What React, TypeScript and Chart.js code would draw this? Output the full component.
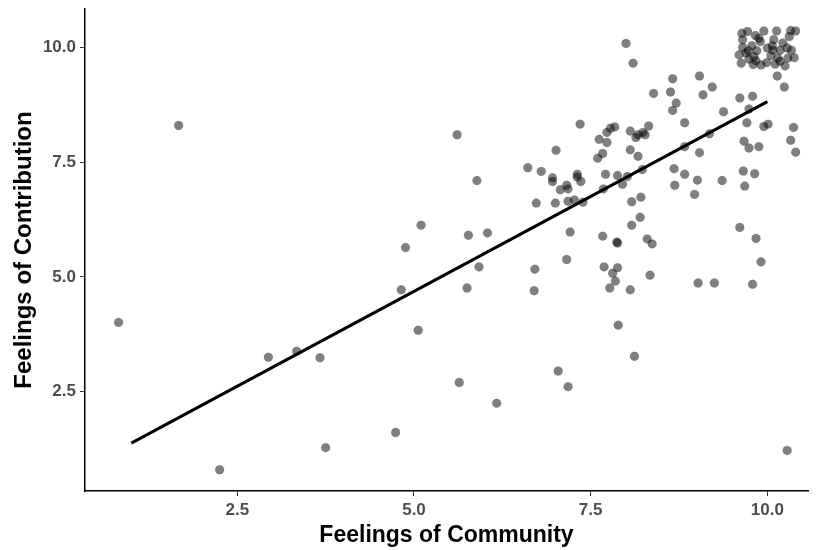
import React, { useEffect, useRef } from "react";
import { Chart, registerables } from "chart.js";

Chart.register(...registerables);

// Scatter points: Feelings of Community (x) vs Feelings of Contribution (y)
const communityX = [
  0.82, 1.67, 2.25, 2.94, 3.34, 3.67, 3.75, 4.74, 4.82, 4.88, 5.06, 5.10, 5.61, 5.64, 5.75, 5.77, 5.89, 5.92, 6.04, 6.17,
  6.61, 6.70, 6.71, 6.73, 6.80, 6.96, 6.96, 7.00, 7.01, 7.04, 7.07, 7.16, 7.16, 7.18, 7.18, 7.18, 7.21, 7.27, 7.31, 7.31,
  7.35, 7.36, 7.39, 7.60, 7.62, 7.67, 7.67, 7.68, 7.69, 7.71, 7.73, 7.73, 7.77, 7.78, 7.81, 7.84, 7.85, 7.88, 7.88, 7.87,
  7.88, 7.89, 7.95, 8.00, 8.02, 8.06, 8.06, 8.06, 8.08, 8.08, 8.10, 8.12, 8.14, 8.17, 8.17, 8.20, 8.21, 8.23, 8.24, 8.27,
  8.30, 8.32, 8.34, 8.37, 8.39, 8.63, 8.66, 8.66, 8.68, 8.69, 8.71, 8.83, 8.83, 8.83, 8.97, 9.01, 9.02, 9.04, 9.04, 9.09,
  9.18, 9.22, 9.25, 9.36, 9.38, 9.61, 9.61, 9.66, 9.67, 9.68, 9.71, 9.74, 9.74, 9.79, 9.79, 9.82, 9.84, 9.88, 9.91, 9.95,
  10.01, 10.14, 10.24, 10.28, 10.33, 10.37, 10.40,
  // upper-right cluster
  9.64, 9.72, 9.83, 9.95, 10.13, 10.33, 10.40, 10.31, 9.65, 9.90, 10.09, 10.07, 9.65, 9.78, 9.85, 10.00, 10.08, 10.18,
  10.28, 10.34, 9.60, 9.73, 9.81, 9.74, 9.84, 10.15, 10.29, 10.38, 9.63, 9.91, 9.99, 10.11, 10.25, 9.70, 10.05, 10.22,
  9.88, 10.18, 9.80,
];
const contributionY = [
  4.01, 8.30, 0.80, 3.25, 3.38, 3.24, 1.28, 1.61, 4.72, 5.64, 3.84, 6.13, 8.10, 2.70, 4.76, 5.91, 7.10, 5.22, 5.96, 2.25,
  7.38, 4.70, 5.17, 6.61, 7.30, 7.16, 7.08, 6.61, 7.76, 2.95, 6.90, 7.00, 5.38, 6.92, 6.65, 2.61, 5.98, 6.68, 7.24, 7.18,
  8.33, 7.08, 6.63, 7.59, 8.00, 7.69, 5.89, 6.92, 5.22, 7.24, 8.15, 7.93, 4.76, 8.24, 5.08, 8.27, 4.91, 7.21, 5.74, 5.76,
  5.20, 3.95, 7.02, 10.09, 7.19, 8.18, 7.77, 4.72, 6.64, 6.13, 9.66, 3.27, 8.04, 8.10, 7.63, 6.30, 6.74, 7.34, 8.15, 8.10,
  5.83, 8.29, 5.04, 5.72, 9.00, 9.03, 9.32, 8.63, 7.36, 7.00, 8.79, 8.36, 7.84, 7.24, 6.80, 7.11, 4.87, 9.38, 7.71, 8.97,
  8.12, 9.14, 4.87, 7.10, 8.60, 8.90, 6.08, 7.31, 7.96, 6.98, 8.36, 8.66, 7.81, 8.94, 4.84, 7.25, 5.84, 7.84, 5.33, 8.28,
  8.33, 9.38, 9.14, 1.22, 7.98, 8.26, 7.72,
  // upper-right cluster
  10.31, 10.35, 10.26, 10.36, 10.36, 10.37, 10.36, 10.24, 10.17, 10.13, 10.17, 10.04, 10.00, 10.04, 9.93, 9.99, 9.94, 9.94,
  9.99, 9.94, 9.84, 9.93, 9.80, 9.75, 9.71, 9.77, 9.77, 9.78, 9.66, 9.62, 9.67, 9.64, 9.60, 9.88, 9.82, 10.10,
  10.20, 9.70, 9.63,
];

// Fitted regression line endpoints
const fitX = [1.0, 10.0];
const fitY = [1.38, 8.82];

const xTicks = [2.5, 5.0, 7.5, 10.0];
const yTicks = [2.5, 5.0, 7.5, 10.0];

export default function App() {
  const canvasRef = useRef<HTMLCanvasElement | null>(null);

  useEffect(() => {
    if (!canvasRef.current) return;
    const points = communityX.map((x, i) => ({ x, y: contributionY[i] }));
    const fit = fitX.map((x, i) => ({ x, y: fitY[i] }));
    const family = "'Liberation Sans', Arial, sans-serif";
    const tickFont = { family, size: 17, weight: "bold" as const };

    const chart = new Chart(canvasRef.current, {
      type: "scatter",
      data: {
        datasets: [
          {
            label: "fit",
            data: fit,
            showLine: true,
            borderColor: "#000000",
            borderWidth: 3,
            pointRadius: 0,
            order: 0,
          },
          {
            label: "points",
            data: points,
            backgroundColor: "rgba(0,0,0,0.5)",
            borderColor: "rgba(0,0,0,0.15)",
            borderWidth: 0.5,
            pointRadius: 4.5,
            order: 1,
          },
        ],
      },
      options: {
        animation: false,
        responsive: false,
        maintainAspectRatio: false,
        layout: { padding: { left: 0, top: 9, right: 10, bottom: 0 } },
        plugins: { legend: { display: false }, tooltip: { enabled: false } },
        scales: {
          x: {
            type: "linear",
            min: 0.345,
            max: 10.575,
            afterFit: (s: any) => {
              s.height = 59;
              s.paddingLeft = 0;
              s.paddingRight = 0;
            },
            afterBuildTicks: (s: any) => {
              s.ticks = xTicks.map((v) => ({ value: v }));
            },
            ticks: {
              callback: (v: any) => Number(v).toFixed(1),
              color: "#4d4d4d",
              font: tickFont,
              padding: 4,
              maxRotation: 0,
            },
            grid: { display: true, drawOnChartArea: false, drawTicks: true, tickLength: 5, color: "#333333", tickWidth: 1 },
            border: { display: true, color: "#000000", width: 1.5 },
            title: {
              display: true,
              text: "Feelings of Community",
              color: "#000000",
              font: { family, size: 23, weight: "bold" as const },
              padding: { top: 0, bottom: 1 },
            },
          },
          y: {
            type: "linear",
            min: 0.336,
            max: 10.84,
            afterFit: (s: any) => {
              s.width = 85;
              s.paddingTop = 0;
              s.paddingBottom = 0;
            },
            afterBuildTicks: (s: any) => {
              s.ticks = yTicks.map((v) => ({ value: v }));
            },
            ticks: {
              callback: (v: any) => Number(v).toFixed(1),
              color: "#4d4d4d",
              font: tickFont,
              padding: 4,
            },
            grid: { display: true, drawOnChartArea: false, drawTicks: true, tickLength: 5, color: "#333333", tickWidth: 1 },
            border: { display: true, color: "#000000", width: 1.5 },
            title: {
              display: true,
              text: "Feelings of Contribution",
              color: "#000000",
              font: { family, size: 24, weight: "bold" as const },
              padding: { top: 10, bottom: 0 },
            },
          },
        },
      },
    });
    return () => chart.destroy();
  }, []);

  return (
    <div style={{ position: "fixed", left: 0, top: 0, width: 818, height: 550, background: "#ffffff" }}>
      <canvas ref={canvasRef} width={818} height={550} style={{ width: 818, height: 550, display: "block" }} />
    </div>
  );
}
